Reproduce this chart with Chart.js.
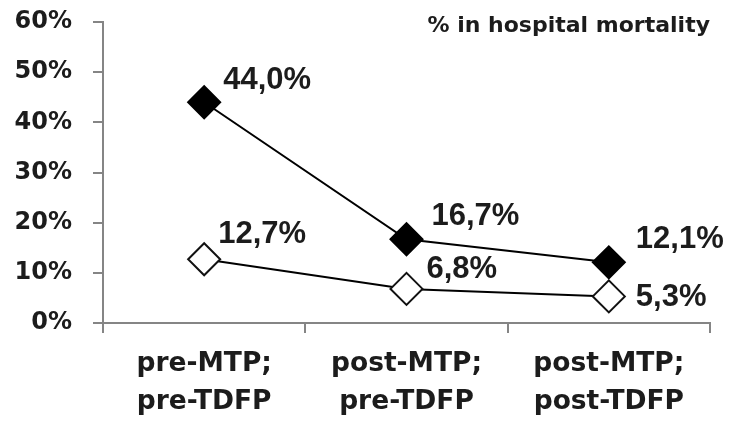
<!DOCTYPE html>
<html lang="en">
<head>
    <meta charset="UTF-8">
    <title>% in hospital mortality</title>
    <script src="https://cdn.jsdelivr.net/npm/chart.js"></script>
    <style>
        html, body { margin: 0; padding: 0; background: #fff; }
        #wrap { width: 732px; height: 423px; }
    </style>
</head>
<body>
    <div id="wrap"><canvas id="mortChart"></canvas></div>
    <script>
        // data
        const periods = [["pre-MTP;", "pre-TDFP"], ["post-MTP;", "pre-TDFP"], ["post-MTP;", "post-TDFP"]];
        const filledSeries = [44.0, 16.7, 12.1];
        const openSeries = [12.7, 6.8, 5.3];
        const yTicks = [0, 10, 20, 30, 40, 50, 60];
        const chartTitle = "% in hospital mortality";

        // where each value label sits relative to its point (dx, dy)
        const labelShift = [
            [[19, -22], [25, -23], [27, -23]],
            [[14, -25], [20, -19], [27, 1]]
        ];

        const axisGrey = "#858585";
        const textCol = "#1c1c1c";
        const axisFont = "'DejaVu Sans', sans-serif";

        const valueLabels = {
            id: "valueLabels",
            afterDatasetsDraw(chart) {
                const ctx = chart.ctx;
                ctx.save();
                ctx.fillStyle = textCol;
                ctx.font = "bold 31px 'Liberation Sans', Arial, sans-serif";
                ctx.textAlign = "left";
                ctx.textBaseline = "middle";
                chart.data.datasets.forEach((ds, di) => {
                    chart.getDatasetMeta(di).data.forEach((pt, i) => {
                        const s = labelShift[di][i];
                        const txt = ds.data[i].toFixed(1).replace(".", ",") + "%";
                        ctx.fillText(txt, pt.x + s[0], pt.y + s[1]);
                    });
                });
                // title in the top right corner
                ctx.font = "bold 22px " + axisFont;
                ctx.textAlign = "right";
                ctx.textBaseline = "alphabetic";
                ctx.fillText(chartTitle, 710, 32);
                ctx.restore();
            }
        };

        new Chart(document.getElementById("mortChart"), {
            type: "line",
            data: {
                labels: periods,
                datasets: [{
                    data: filledSeries,
                    borderColor: "#000",
                    backgroundColor: "#000",
                    borderWidth: 2,
                    pointStyle: "rectRot",
                    pointRadius: 16,
                    pointBorderWidth: 2,
                    pointBackgroundColor: "#000",
                    pointBorderColor: "#000"
                }, {
                    data: openSeries,
                    borderColor: "#000",
                    backgroundColor: "#fff",
                    borderWidth: 2,
                    pointStyle: "rectRot",
                    pointRadius: 16,
                    pointBorderWidth: 2,
                    pointBackgroundColor: "#fff",
                    pointBorderColor: "#111"
                }]
            },
            options: {
                responsive: true,
                maintainAspectRatio: false,
                animation: false,
                layout: { padding: { top: 22, right: 22, left: 0, bottom: 0 } },
                plugins: {
                    legend: { display: false },
                    tooltip: { enabled: false }
                },
                scales: {
                    x: {
                        offset: true,
                        afterFit: s => { s.height = 100; s.paddingLeft = 0; s.paddingRight = 0; },
                        border: { color: axisGrey, width: 2 },
                        grid: { offset: true, drawOnChartArea: false, tickLength: 10, color: axisGrey, lineWidth: 2 },
                        ticks: {
                            color: textCol,
                            padding: 13,
                            maxRotation: 0,
                            font: { family: axisFont, weight: "bold", size: 26.5, lineHeight: 1.4 }
                        }
                    },
                    y: {
                        min: 0,
                        max: 60,
                        afterFit: s => { s.width = 103; s.paddingTop = 0; s.paddingBottom = 0; },
                        afterBuildTicks: s => { s.ticks = yTicks.map(v => ({ value: v })); },
                        border: { color: axisGrey, width: 2 },
                        grid: { drawOnChartArea: false, tickLength: 10, color: axisGrey, lineWidth: 2 },
                        ticks: {
                            color: textCol,
                            padding: 21,
                            font: { family: axisFont, weight: "bold", size: 24 },
                            callback: v => v + "%"
                        }
                    }
                }
            },
            plugins: [valueLabels]
        });
    </script>
</body>
</html>
